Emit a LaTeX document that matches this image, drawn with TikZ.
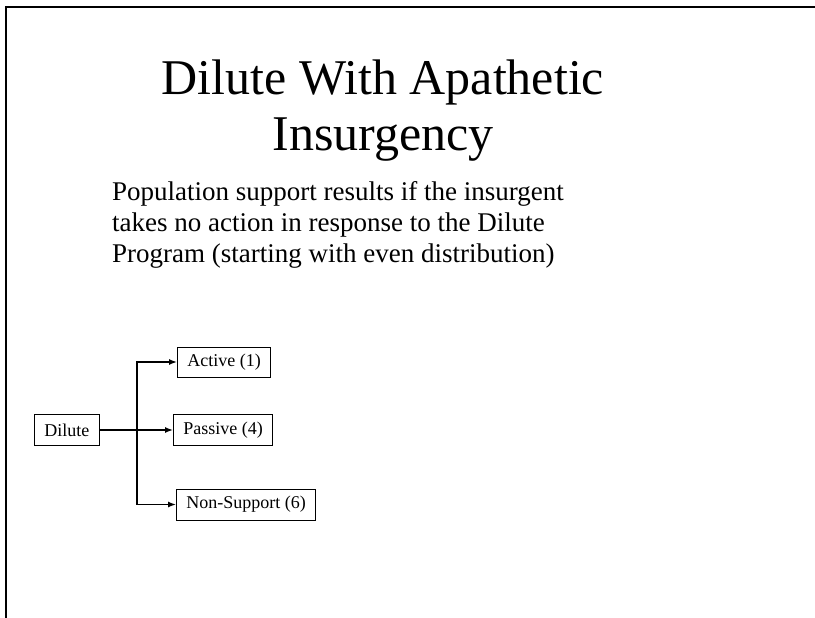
\documentclass[tikz,border=0pt]{standalone}
\usepackage{fontspec}
\setmainfont{Liberation Serif}
\usetikzlibrary{shapes,arrows,arrows.meta,positioning,calc}

\begin{document}
\begin{tikzpicture}[x=1pt, y=-1pt,
    outcome/.style={draw, line width=0.9pt, anchor=west, inner xsep=10pt,
      minimum height=31pt, font=\fontsize{18}{20}\selectfont},
    link/.style={line width=1.4pt, -{Latex[length=8pt,width=6pt]}}]
  \useasboundingbox (0,0) rectangle (815,618);
  % frame of the slide
  \draw[line width=2.2pt] (6,618) -- (6,7) -- (815,7);

  \node[anchor=base, font=\fontsize{50}{55}\selectfont] (title1) at (383,95) {Dilute With Apathetic};
  \node[anchor=base, font=\fontsize{50}{55}\selectfont] (title2) at (383,150) {Insurgency};

  \node[anchor=base west, align=left, inner sep=0pt, font=\fontsize{27}{31}\selectfont] (text) at (112,262)
    {Population support results if the insurgent\\takes no action in response to the Dilute\\Program (starting with even distribution)};

  \node[outcome] (dilute) at (34,430) {Dilute};
  \node[outcome, minimum height=30pt] (active) at (177,362) {Active (1)};
  \node[outcome] (passive) at (173,430) {Passive (4)};
  \node[outcome] (nonsup) at (176,504.5) {Non-Support (6)};

  \coordinate (split) at (137,430);
  \draw[line width=1.4pt] (dilute.east) -- (split);
  \draw[link] (split) |- (active.west);
  \draw[link] (split) -- (passive.west);
  \draw[link] (split) |- (nonsup.west);
\end{tikzpicture}
\end{document}
